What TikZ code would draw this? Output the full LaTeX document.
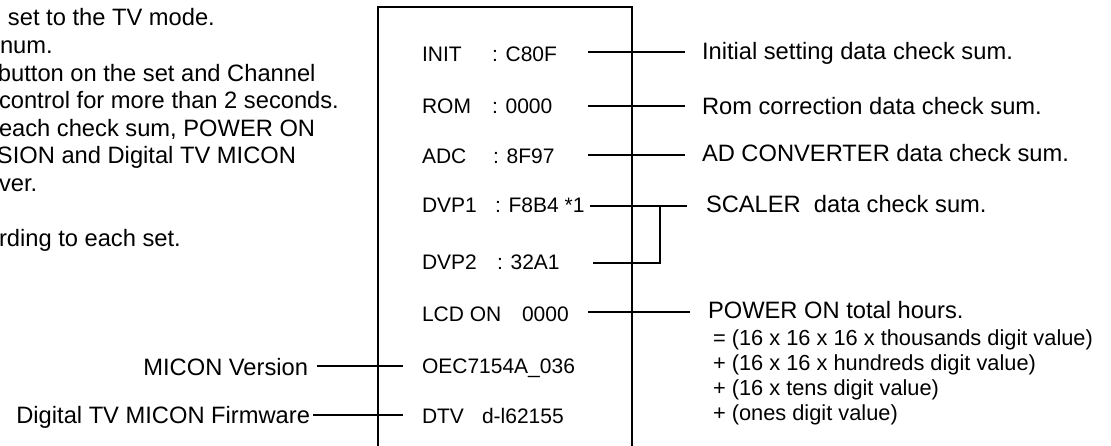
\documentclass[tikz,border=0pt]{standalone}
\usepackage{fontspec}
\setmainfont{Liberation Sans}
\begin{document}
\begin{tikzpicture}[x=1pt,y=-1pt,
  txt/.style={inner sep=0pt,outer sep=0pt,anchor=base west,font=\fontsize{23.7}{27}\selectfont},
  boxtxt/.style={inner sep=0pt,outer sep=0pt,anchor=base west,font=\fontsize{21}{25}\selectfont},
  formtxt/.style={inner sep=0pt,outer sep=0pt,anchor=base west,font=\fontsize{21.8}{25}\selectfont},
  rtxt/.style={inner sep=0pt,outer sep=0pt,anchor=base east,font=\fontsize{23.7}{27}\selectfont},
  wire/.style={line width=2pt},
  frame/.style={line width=2.3pt}]
\useasboundingbox (0,0) rectangle (1111,446);
% left paragraph (cut off at the left edge)
\node[txt] (p1) at (8,26) {set to the TV mode.};
\node[txt] (p2) at (0,53.6) {num.};
\node[txt] (p3) at (-2,81.2) {button on the set and Channel};
\node[txt] (p4) at (-1,108.8) {control for more than 2 seconds.};
\node[txt] (p5) at (-1,136.4) {each check sum, POWER ON};
\node[txt] (p6) at (-3,164) {SION and Digital TV MICON};
\node[txt] (p7) at (-1,191.6) {ver.};
\node[txt] (p8) at (-1,246.8) {rding to each set.};
% frame
\coordinate (bl) at (378,452);
\coordinate (tl) at (378,7);
\coordinate (tr) at (632,7);
\coordinate (br) at (632,452);
\draw[frame] (bl) -- (tl) -- (tr) -- (br);
% box contents
\node[boxtxt] (n1) at (422,62) {INIT};   \node[boxtxt] (v1) at (492,62) {: C80F};
\node[boxtxt] (n2) at (422,114) {ROM};   \node[boxtxt] (v2) at (492,114) {: 0000};
\node[boxtxt] (n3) at (422,164) {ADC};   \node[boxtxt] (v3) at (493,164) {: 8F97};
\node[boxtxt] (n4) at (422,213) {DVP1};  \node[boxtxt] (v4) at (495,213) {: F8B4 *1};
\node[boxtxt] (n5) at (422,270) {DVP2};  \node[boxtxt] (v5) at (497,270) {: 32A1};
\node[boxtxt] (n6) at (422,322) {LCD ON}; \node[boxtxt] (v6) at (522,322) {0000};
\node[boxtxt] (n7) at (422,373) {OEC7154A\_036};
\node[boxtxt] (n8) at (422,423) {DTV};   \node[boxtxt] (v8) at (482,423) {d-l62155};
% right labels
\node[txt] (r1) at (702,60) {Initial setting data check sum.};
\node[txt] (r2) at (702,115) {Rom correction data check sum.};
\node[txt] (r3) at (702,162) {AD CONVERTER data check sum.};
\node[txt] (r4) at (706,213) {SCALER\ \ data check sum.};
\node[txt] (r5) at (708,319) {POWER ON total hours.};
\node[formtxt] (f1) at (713,345) {= (16 x 16 x 16 x thousands digit value)};
\node[formtxt] (f2) at (713,370) {+ (16 x 16 x hundreds digit value)};
\node[formtxt] (f3) at (713,395) {+ (16 x tens digit value)};
\node[formtxt] (f4) at (713,420) {+ (ones digit value)};
% left labels
\node[rtxt] (l1) at (308,375) {MICON Version};
\node[rtxt] (l2) at (310,423) {Digital TV MICON Firmware};
% connector end points
\coordinate (a1) at (588,52);  \coordinate (b1) at (685,52);
\coordinate (a2) at (588,106); \coordinate (b2) at (685,106);
\coordinate (a3) at (588,155); \coordinate (b3) at (685,155);
\coordinate (a4) at (590,206); \coordinate (b4) at (687,206);
\coordinate (j4) at (660,206); \coordinate (j5) at (660,263);
\coordinate (a5) at (593,263);
\coordinate (a6) at (588,312); \coordinate (b6) at (690,312);
\coordinate (a7) at (317,366); \coordinate (b7) at (403,366);
\coordinate (a8) at (313,415); \coordinate (b8) at (403,415);
\draw[wire] (a1) -- (b1);
\draw[wire] (a2) -- (b2);
\draw[wire] (a3) -- (b3);
\draw[wire] (a4) -- (b4);
\draw[wire] (a5) -- (j5) -- (j4);
\draw[wire] (a6) -- (b6);
\draw[wire] (a7) -- (b7);
\draw[wire] (a8) -- (b8);
\end{tikzpicture}
\end{document}
